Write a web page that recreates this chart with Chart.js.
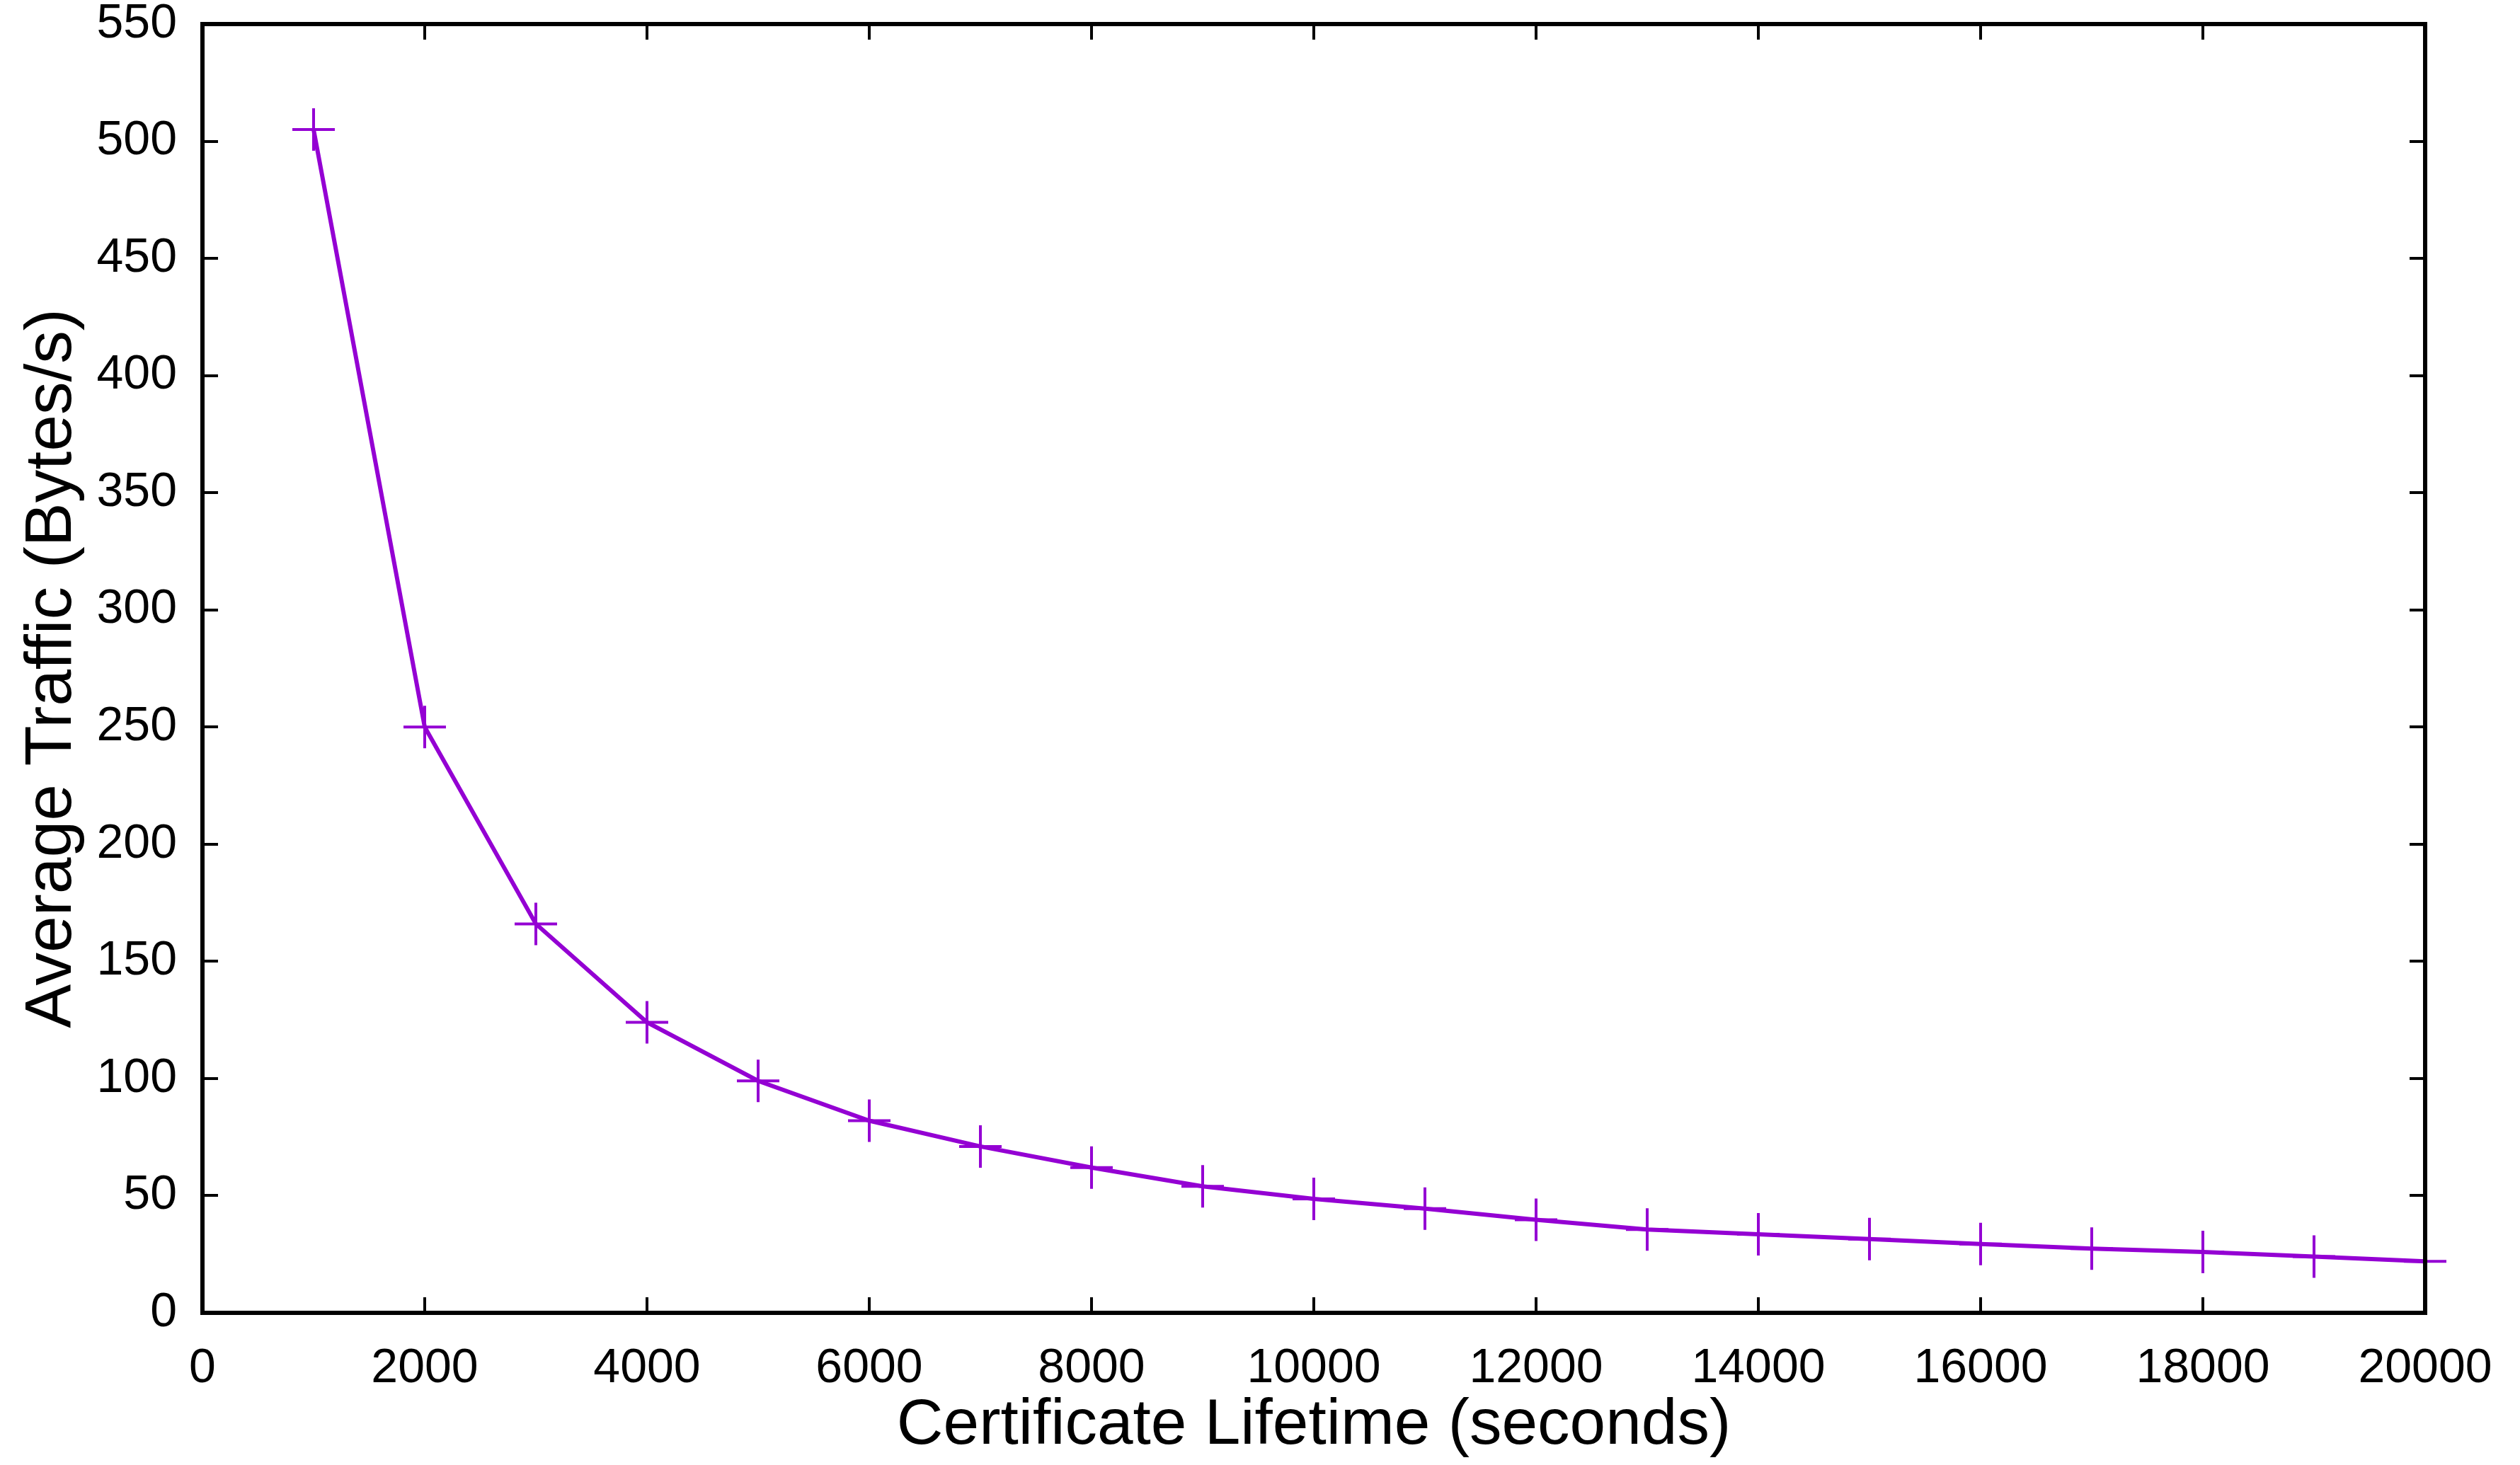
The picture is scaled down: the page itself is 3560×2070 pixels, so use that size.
<!DOCTYPE html>
<html>
<head>
<meta charset="utf-8">
<style>
  html, body { margin: 0; padding: 0; background: #fff; }
  #wrap { width: 3560px; height: 2070px; }
</style>
<script src="https://cdn.jsdelivr.net/npm/chart.js@4/dist/chart.umd.min.js"></script>
</head>
<body>
<div id="wrap"><canvas id="trafficChart" width="3560" height="2070"></canvas></div>
<script>
// certificate lifetime (s) vs average traffic (bytes/s)
const lifetimes = [1000, 2000, 3000, 4000, 5000, 6000, 7000, 8000, 9000, 10000,
                   11000, 12000, 13000, 14000, 15000, 16000, 17000, 18000, 19000, 20000];
const traffic = [505, 250, 166, 124, 99, 82, 71, 62, 54, 48.6,
                 44.5, 39.7, 35.6, 33.5, 31.5, 29.4, 27.4, 26, 24, 22];

const xTitle = 'Certificate Lifetime (seconds)';
const yTitle = 'Average Traffic (Bytes/s)';
const purple = '#9400d3';

// gnuplot-style frame: box around the plot with inward ticks on every side
const framePlugin = {
  id: 'frame',
  afterDatasetsDraw(chart) {
    const { ctx, chartArea: a, scales } = chart;
    const tick = 22;
    ctx.save();
    ctx.strokeStyle = '#000';
    ctx.lineWidth = 4;
    ctx.beginPath();
    scales.x.ticks.forEach(t => {
      const px = Math.round(scales.x.getPixelForValue(t.value));
      ctx.moveTo(px, a.bottom); ctx.lineTo(px, a.bottom - tick);
      ctx.moveTo(px, a.top); ctx.lineTo(px, a.top + tick);
    });
    scales.y.ticks.forEach(t => {
      const py = Math.round(scales.y.getPixelForValue(t.value));
      ctx.moveTo(a.left, py); ctx.lineTo(a.left + tick, py);
      ctx.moveTo(a.right, py); ctx.lineTo(a.right - tick, py);
    });
    ctx.stroke();
    ctx.lineWidth = 6;
    ctx.strokeRect(a.left, a.top, a.right - a.left, a.bottom - a.top);
    ctx.restore();
  }
};

const ctx = document.getElementById('trafficChart').getContext('2d');
new Chart(ctx, {
  type: 'line',
  data: {
    datasets: [{
      data: lifetimes.map((x, i) => ({ x: x, y: traffic[i] })),
      borderColor: purple,
      backgroundColor: purple,
      borderWidth: 6,
      tension: 0,
      fill: false,
      pointStyle: 'cross',
      pointRadius: 30,
      pointBorderWidth: 4,
      pointBorderColor: purple,
      clip: false
    }]
  },
  options: {
    responsive: false,
    animation: false,
    devicePixelRatio: 1,
    layout: { padding: { left: 0, right: 134, top: 27, bottom: 0 } },
    plugins: { legend: { display: false }, tooltip: { enabled: false } },
    scales: {
      x: {
        type: 'linear',
        min: 0, max: 20000,
        ticks: {
          stepSize: 2000, padding: 38, color: '#000', maxRotation: 0,
          font: { family: 'Liberation Sans', size: 68 },
          callback: v => String(v)
        },
        grid: { display: false, drawTicks: false },
        border: { display: false },
        title: {
          display: true, text: xTitle, color: '#000',
          font: { family: 'Liberation Sans', size: 91 },
          padding: { top: 0, bottom: 0 }
        },
        afterFit: s => { s.height = 215; s.paddingLeft = 0; s.paddingRight = 0; }
      },
      y: {
        type: 'linear',
        min: 0, max: 550,
        ticks: {
          stepSize: 50, padding: 36, color: '#000',
          font: { family: 'Liberation Sans', size: 68 }
        },
        grid: { display: false, drawTicks: false },
        border: { display: false },
        title: {
          display: true, text: yTitle, color: '#000',
          font: { family: 'Liberation Sans', size: 93 },
          padding: { top: 19, bottom: 0 }
        },
        afterFit: s => { s.width = 286; s.paddingTop = 0; s.paddingBottom = 0; }
      }
    }
  },
  plugins: [framePlugin]
});
</script>
</body>
</html>
